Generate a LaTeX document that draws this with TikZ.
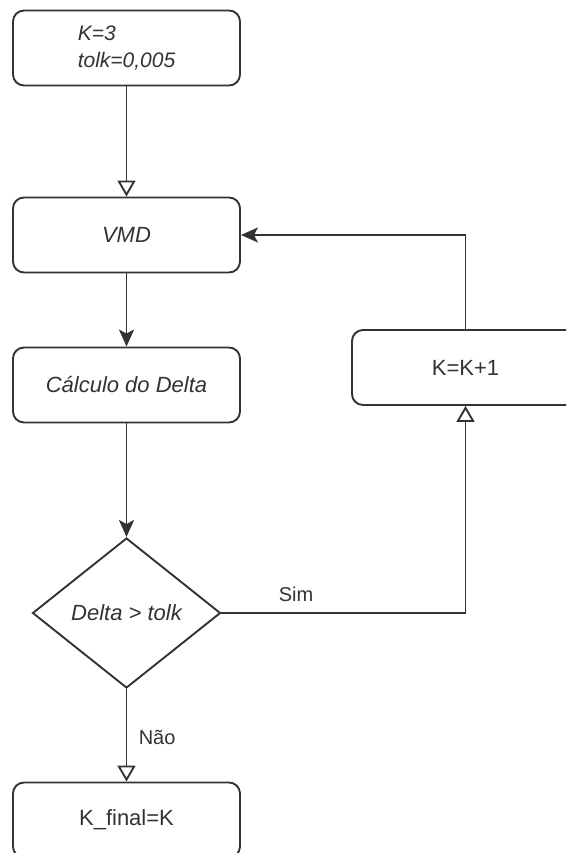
\documentclass[tikz,border=0pt]{standalone}
\usepackage{fontspec}
\setmainfont{Liberation Sans}
\usetikzlibrary{arrows.meta,shapes.geometric}
\definecolor{ink}{HTML}{333333}
\begin{document}
\begin{tikzpicture}[x=1pt,y=-1pt,
  every node/.style={text=ink},
  box/.style={draw=ink, line width=1.9pt, rounded corners=11pt, fill=white,
    minimum width=227pt, minimum height=75pt, inner sep=0pt,
    font=\fontsize{22}{27}\selectfont},
  decision/.style={draw=ink, line width=1.9pt, diamond, fill=white, aspect=1.25,
    minimum width=188pt, minimum height=150pt, inner sep=0pt,
    font=\fontsize{22}{27}\selectfont\itshape},
  edgelabel/.style={font=\fontsize{20}{24}\selectfont},
  conn/.style={draw=ink, line width=1.9pt},
  openarr/.style={conn, -{Triangle[open, length=16pt, width=18pt, fill=white]}},
  fillarr/.style={conn, -{Stealth[length=17pt, width=15pt, inset=4pt]}}]
  \useasboundingbox (0,0) rectangle (566,853);
  \fill[white] (0,0) rectangle (566,853);
  \clip (0,0) rectangle (566,853);

  % process steps
  \node[box, align=left, font=\fontsize{21}{27}\selectfont\itshape] (init) at (126.5,48) {K=3\\tolk=0,005};
  \node[box, font=\fontsize{22}{27}\selectfont\itshape] (vmd) at (126.5,235) {VMD};
  \node[box, font=\fontsize{22}{27}\selectfont\itshape] (delta) at (126.5,385) {Cálculo do Delta};
  \node[decision] (test) at (126.5,613) {Delta > tolk};
  \node[box] (inc) at (465.5,367.5) {K=K+1};
  \node[box] (final) at (126.5,820) {K\_final=K};

  % flow
  \draw[openarr] (init.south) -- (vmd.north);
  \draw[fillarr] (vmd.south) -- (delta.north);
  \draw[fillarr] (delta.south) -- (test.north);
  \draw[openarr] (test.south) -- node[edgelabel, pos=0.52, right=8pt] {Não} (final.north);
  \draw[openarr] (test.east) -| (inc.south);
  \node[edgelabel] (sim) at (296,594) {Sim};
  \draw[fillarr] (inc.north) |- (vmd.east);
\end{tikzpicture}
\end{document}
